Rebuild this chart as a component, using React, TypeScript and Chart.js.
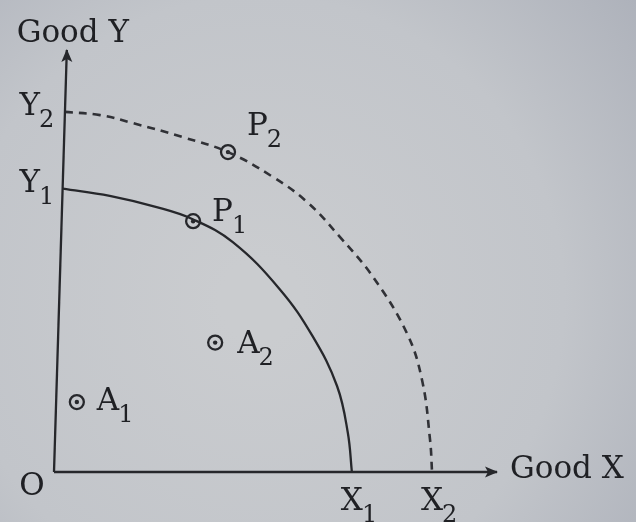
import React, { useEffect, useRef } from "react";
import { Chart, registerables } from "chart.js";

Chart.register(...registerables);

// ---- data (in chart units; origin = O) ----
const X_MAX = 110;
const Y_MAX = 105;

// Production possibility curve 1 (solid): Y1 -> X1
const ppc1X = [1.7, 13.4, 25.1, 34.1, 44.1, 55.8, 64.0, 70.1, 72.8, 73.8];
const ppc1Y = [70.5, 68.7, 65.9, 62.9, 57.2, 45.5, 33.8, 21.4, 9.7, 0];

// Production possibility curve 2 (dashed): Y2 -> X2
const ppc2X = [2.2, 11.0, 19.2, 31.7, 42.9, 54.1, 62.6, 70.8, 79.1, 87.5, 91.3, 93.3, 93.8];
const ppc2Y = [89.6, 88.8, 86.8, 83.3, 79.6, 73.4, 67.2, 58.5, 48.5, 34.6, 22.9, 8.0, 0];

// Marked points
const pointNames = ["P2", "P1", "A2", "A1"];
const pointX = [42.9, 34.2, 39.7, 5.2];
const pointY = [79.6, 62.4, 32.2, 17.4];

// Axis tick labels
const xTickLabels = ["X1", "X2"];
const xTickValues = [73.8, 93.8];
const yTickLabels = ["Y1", "Y2"];
const yTickValues = [70.5, 89.6];

// Axes (the y axis leans slightly, as in the photo)
const xAxisX = [-0.5, X_MAX];
const xAxisY = [0, 0];
const yAxisX = [-0.5, 2.7];
const yAxisY = [0, Y_MAX];

const axisTitleX = "Good X";
const axisTitleY = "Good Y";
const originLabel = "O";

// ---- styles ----
const INK = "#1f2024";
const LINE = "#26272b";
const MAIN_FONT = "31px 'DejaVu Serif'";
const SUB_FONT = "24px 'DejaVu Serif'";
const labelOffsets: Record<string, [number, number]> = {
  P2: [19, -17],
  P1: [19, 0],
  A2: [22, 10],
  A1: [20, 8],
};

function drawSubLabel(ctx: CanvasRenderingContext2D, text: string, x: number, y: number, align: "left" | "center" | "right") {
  const main = text.slice(0, 1);
  const sub = text.slice(1);
  ctx.font = MAIN_FONT;
  const mw = ctx.measureText(main).width;
  let left = x;
  if (align === "center") left = x - mw / 2;
  if (align === "right") left = x - mw;
  ctx.textAlign = "left";
  ctx.textBaseline = "alphabetic";
  ctx.font = MAIN_FONT;
  ctx.fillText(main, left, y);
  ctx.font = SUB_FONT;
  ctx.fillText(sub, left + mw - 1, y + 12);
}

const backgroundPlugin = {
  id: "paperBackground",
  beforeDraw(chart: any) {
    const { ctx, width, height } = chart;
    ctx.save();
    const g = ctx.createRadialGradient(260, 300, 40, 260, 300, 480);
    g.addColorStop(0, "#cacccf");
    g.addColorStop(0.6, "#c2c5ca");
    g.addColorStop(1, "#aeb2bb");
    ctx.fillStyle = g;
    ctx.fillRect(0, 0, width, height);
    ctx.restore();
  },
};

const annotationPlugin = {
  id: "ppcAnnotations",
  afterDatasetsDraw(chart: any) {
    const { ctx } = chart;
    const xs = chart.scales.x;
    const ys = chart.scales.y;
    ctx.save();
    ctx.fillStyle = LINE;

    // arrowheads
    const xtx = xs.getPixelForValue(xAxisX[1]);
    const xty = ys.getPixelForValue(xAxisY[1]);
    ctx.beginPath();
    ctx.moveTo(xtx + 1, xty);
    ctx.lineTo(xtx - 12, xty - 5.5);
    ctx.lineTo(xtx - 9, xty);
    ctx.lineTo(xtx - 12, xty + 5.5);
    ctx.closePath();
    ctx.fill();

    const ytx = xs.getPixelForValue(yAxisX[1]);
    const yty = ys.getPixelForValue(yAxisY[1]);
    ctx.beginPath();
    ctx.moveTo(ytx, yty - 1);
    ctx.lineTo(ytx - 5.5, yty + 12);
    ctx.lineTo(ytx, yty + 9);
    ctx.lineTo(ytx + 5.5, yty + 12);
    ctx.closePath();
    ctx.fill();

    ctx.fillStyle = INK;
    ctx.textBaseline = "alphabetic";

    // axis titles
    ctx.font = MAIN_FONT;
    ctx.textAlign = "left";
    ctx.fillText(axisTitleX, xtx + 13, xty + 6);
    ctx.textAlign = "center";
    ctx.fillText(axisTitleY, ytx + 6, yty - 8);

    // origin
    const ox = xs.getPixelForValue(0);
    const oy = ys.getPixelForValue(0);
    ctx.textAlign = "center";
    ctx.fillText(originLabel, ox - 24, oy + 23);

    // x ticks
    xTickLabels.forEach((t, i) => {
      const px = xs.getPixelForValue(xTickValues[i]);
      drawSubLabel(ctx, t, px, oy + 38, "center");
    });
    // y ticks
    yTickLabels.forEach((t, i) => {
      const py = ys.getPixelForValue(yTickValues[i]);
      drawSubLabel(ctx, t, 40, py + 3, "right");
    });

    // point labels
    pointNames.forEach((t, i) => {
      const px = xs.getPixelForValue(pointX[i]);
      const py = ys.getPixelForValue(pointY[i]);
      const off = labelOffsets[t] || [20, 0];
      drawSubLabel(ctx, t, px + off[0], py + off[1], "left");
    });

    ctx.restore();
  },
};

const toXY = (xa: number[], ya: number[]) => xa.map((x, i) => ({ x, y: ya[i] }));

export default function App() {
  const ref = useRef<HTMLCanvasElement | null>(null);

  useEffect(() => {
    if (!ref.current) return;
    const chart = new Chart(ref.current, {
      type: "scatter",
      data: {
        datasets: [
          {
            label: "x axis",
            data: toXY(xAxisX, xAxisY),
            showLine: true,
            borderColor: LINE,
            borderWidth: 2.3,
            pointRadius: 0,
            clip: false as any,
          },
          {
            label: "y axis",
            data: toXY(yAxisX, yAxisY),
            showLine: true,
            borderColor: LINE,
            borderWidth: 2.3,
            pointRadius: 0,
            clip: false as any,
          },
          {
            label: "PPC 1",
            data: toXY(ppc1X, ppc1Y),
            showLine: true,
            borderColor: LINE,
            borderWidth: 2.3,
            pointRadius: 0,
            tension: 0.4,
            clip: false as any,
          },
          {
            label: "PPC 2",
            data: toXY(ppc2X, ppc2Y),
            showLine: true,
            borderColor: "#303136",
            borderWidth: 2.6,
            borderDash: [8, 6],
            pointRadius: 0,
            tension: 0.4,
            clip: false as any,
          },
          {
            label: "points ring",
            data: toXY(pointX, pointY),
            showLine: false,
            pointStyle: "circle",
            pointRadius: 7,
            pointBorderWidth: 2.3,
            pointBorderColor: LINE,
            pointBackgroundColor: "rgba(0,0,0,0)",
            clip: false as any,
          },
          {
            label: "points dot",
            data: toXY(pointX, pointY),
            showLine: false,
            pointStyle: "circle",
            pointRadius: 2.2,
            pointBorderWidth: 0,
            pointBackgroundColor: LINE,
            clip: false as any,
          },
        ],
      },
      options: {
        animation: false,
        responsive: false,
        devicePixelRatio: 1,
        layout: { padding: { left: 56, right: 139, top: 50, bottom: 50 } },
        scales: {
          x: { type: "linear", min: 0, max: X_MAX, display: false },
          y: { type: "linear", min: 0, max: Y_MAX, display: false },
        },
        plugins: {
          legend: { display: false },
          tooltip: { enabled: false },
        },
        events: [],
      },
      plugins: [backgroundPlugin, annotationPlugin],
    });
    return () => chart.destroy();
  }, []);

  return (
    <div style={{ position: "fixed", left: 0, top: 0, width: 636, height: 522 }}>
      <canvas ref={ref} width={636} height={522} style={{ width: 636, height: 522, display: "block" }} />
    </div>
  );
}
